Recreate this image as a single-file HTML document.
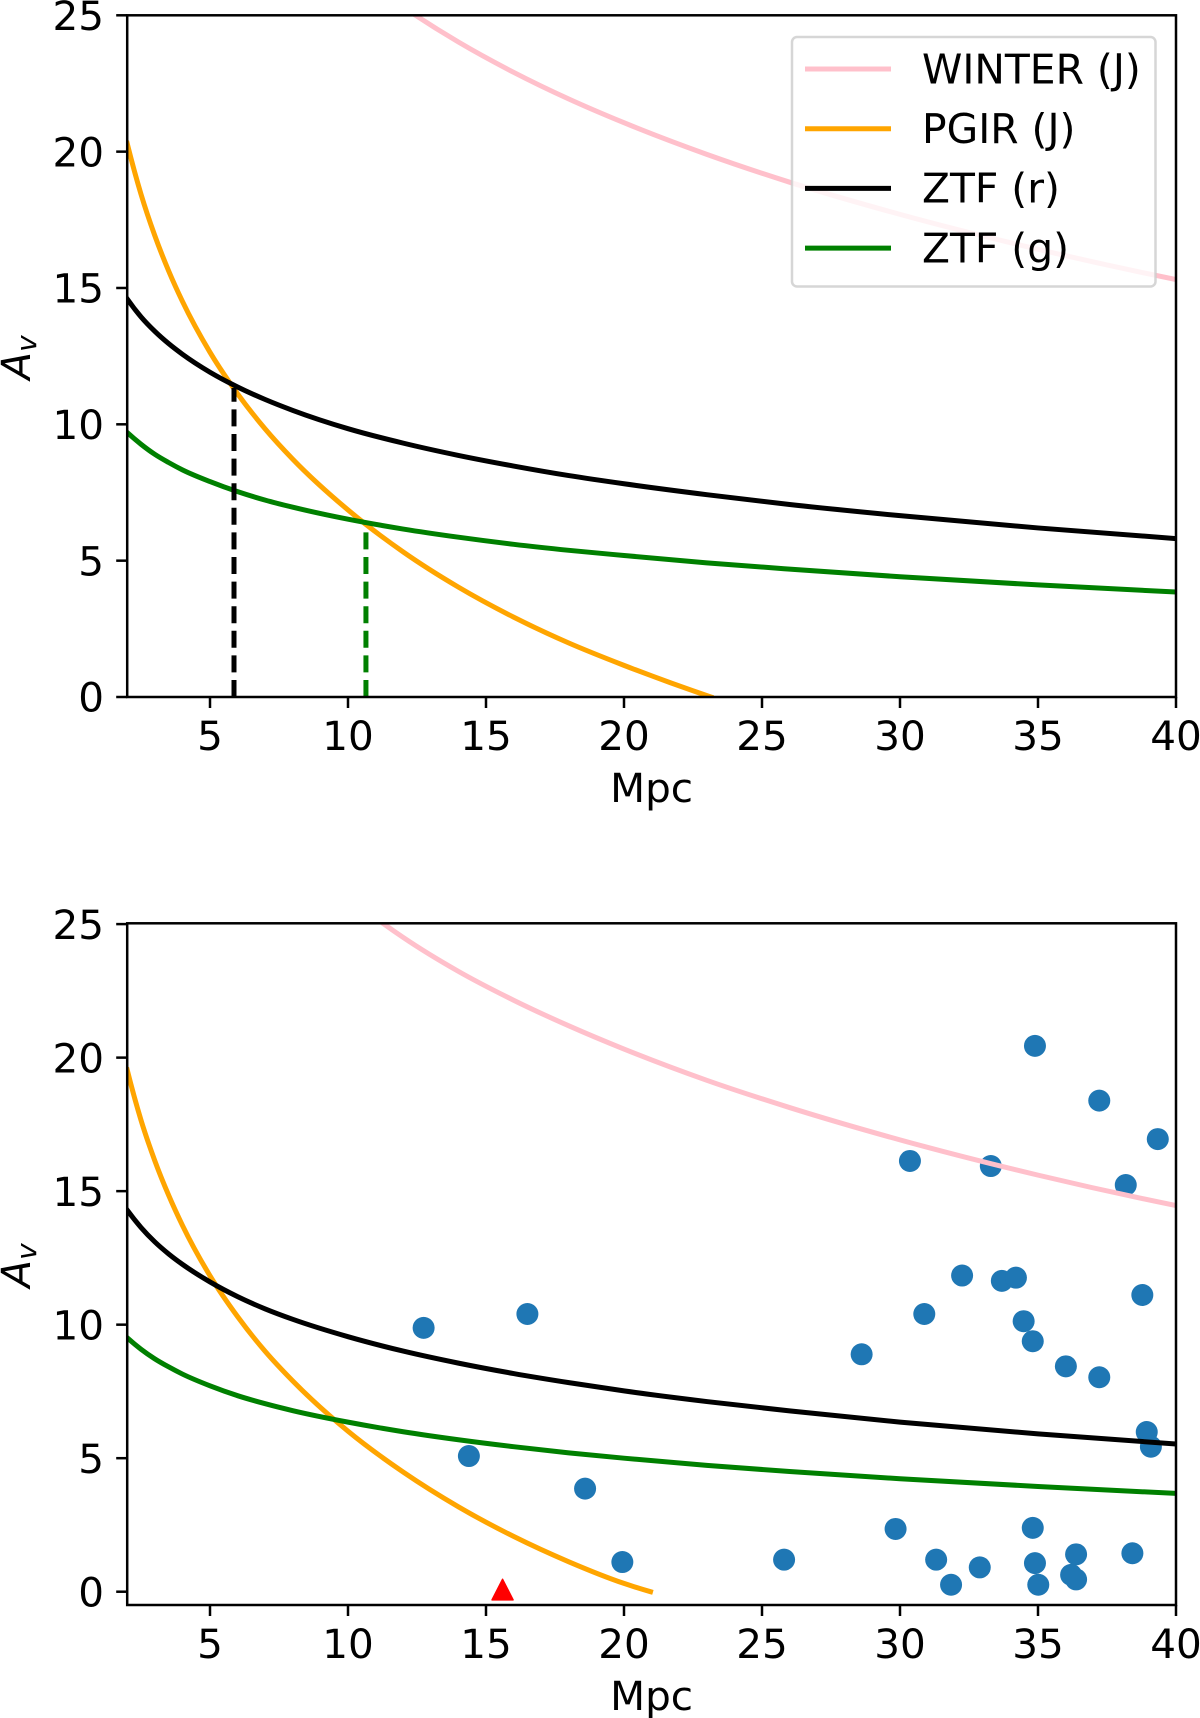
<!DOCTYPE html>
<html lang="en">
<head>
<meta charset="utf-8">
<title>Av versus distance limits</title>
<style>
  html, body { margin: 0; padding: 0; background: #ffffff; }
  #chart { display: block; }
  text { font-family: "DejaVu Sans", "Liberation Sans", sans-serif; fill: #000000; }
</style>
</head>
<body>
<svg id="chart" xmlns="http://www.w3.org/2000/svg" width="1200" height="1718" viewBox="0 0 1200 1718"></svg>
<script>
// ---- Data ----
const xTickValues = [5, 10, 15, 20, 25, 30, 35, 40];
const yTickValues = [0, 5, 10, 15, 20, 25];

const sharedDistances = [2, 2.5, 3, 3.5, 4, 5, 6, 7, 8, 10, 12, 14, 16, 18, 20, 23, 26, 30, 35, 40];

const topWinterDistances = [12, 14, 16, 18, 20, 23, 26, 30, 35, 40];
const topWinterAv = [25.3, 24.02, 22.91, 21.93, 21.06, 19.9, 18.88, 17.7, 16.42, 15.31];
const topPgirDistances = [2, 2.5, 3, 3.5, 4, 5, 6, 7, 8, 10, 12, 14, 16, 18, 20, 23.15];
const topPgirAv = [20.3, 18.44, 16.92, 15.63, 14.51, 12.64, 11.12, 9.83, 8.72, 6.86, 5.32, 4.03, 2.93, 1.98, 1.16, 0];
const topZtfRAv = [14.6, 13.94, 13.41, 12.96, 12.57, 11.91, 11.37, 10.91, 10.51, 9.84, 9.31, 8.86, 8.47, 8.12, 7.82, 7.42, 7.06, 6.65, 6.2, 5.81];
const topZtfGAv = [9.7, 9.27, 8.9, 8.6, 8.33, 7.9, 7.53, 7.22, 6.96, 6.52, 6.16, 5.86, 5.6, 5.38, 5.19, 4.92, 4.69, 4.41, 4.11, 3.85];
const dashRDistance = [5.87, 5.87];
const dashRAv = [0, 11.33];
const dashGDistance = [10.65, 10.65];
const dashGAv = [0, 6.4];

const bottomWinterDistances = [11, 12, 14, 16, 18, 20, 23, 26, 30, 35, 40];
const bottomWinterAv = [25.23, 24.5, 23.23, 22.15, 21.19, 20.32, 19.15, 18.13, 16.92, 15.6, 14.46];
const bottomPgirDistances = [2, 2.5, 3, 3.5, 4, 5, 6, 7, 8, 10, 12, 14, 16, 18, 20, 20.96];
const bottomPgirAv = [19.54, 17.66, 16.14, 14.85, 13.72, 11.83, 10.3, 9, 7.89, 6.01, 4.48, 3.18, 2.07, 1.12, 0.31, 0];
const bottomZtfRAv = [14.29, 13.64, 13.1, 12.65, 12.26, 11.6, 11.05, 10.59, 10.2, 9.55, 9.01, 8.56, 8.17, 7.83, 7.52, 7.12, 6.77, 6.35, 5.91, 5.53];
const bottomZtfGAv = [9.51, 9.08, 8.72, 8.42, 8.15, 7.71, 7.34, 7.04, 6.78, 6.35, 5.99, 5.69, 5.43, 5.2, 5, 4.73, 4.5, 4.23, 3.94, 3.68];

const scatterDistance = [34.89, 37.22, 39.34, 30.36, 33.29, 38.18, 32.25, 33.69, 34.2, 38.78, 30.88, 34.48, 34.81, 28.61, 36.01, 37.22, 38.94, 39.09, 29.84, 34.81, 31.31, 32.89, 34.89, 36.38, 38.42, 31.85, 35.01, 36.2, 36.38, 14.38, 18.59, 19.94, 25.8, 12.74, 16.5];
const scatterAv = [20.44, 18.39, 16.95, 16.13, 15.94, 15.23, 11.84, 11.64, 11.76, 11.11, 10.4, 10.13, 9.38, 8.89, 8.44, 8.03, 5.98, 5.43, 2.35, 2.39, 1.2, 0.91, 1.07, 1.4, 1.44, 0.26, 0.26, 0.63, 0.46, 5.08, 3.86, 1.11, 1.2, 9.88, 10.4];
const triangleDistance = [15.6];
const triangleAv = [0.07];

const legendLabels = ['WINTER (J)', 'PGIR (J)', 'ZTF (r)', 'ZTF (g)'];
const legendColors = ['#ffc0cb', '#ffa500', '#000000', '#008000'];

// ---- Drawing ----
const NS = 'http://www.w3.org/2000/svg';
const root = document.getElementById('chart');
const LINE_W = 5;
const SPINE_W = 2.5;
const TICK_LEN = 11;
const FONT = 40.5;
const LEGEND_FONT = 40.8;

function mk(tag, attrs, parent) {
  const el = document.createElementNS(NS, tag);
  for (const k in attrs) el.setAttribute(k, attrs[k]);
  parent.appendChild(el);
  return el;
}

function smoothPath(xs, ys) {
  const n = xs.length;
  const h = [], s = [], m = new Array(n);
  for (let i = 0; i < n - 1; i++) {
    h.push(xs[i + 1] - xs[i]);
    s.push((ys[i + 1] - ys[i]) / h[i]);
  }
  for (let i = 1; i < n - 1; i++) {
    m[i] = (h[i - 1] * s[i] + h[i] * s[i - 1]) / (h[i - 1] + h[i]);
  }
  m[0] = n > 2 ? 2 * s[0] - m[1] : s[0];
  m[n - 1] = n > 2 ? 2 * s[n - 2] - m[n - 2] : s[0];
  let d = 'M' + xs[0].toFixed(2) + ' ' + ys[0].toFixed(2);
  for (let i = 0; i < n - 1; i++) {
    const c1x = xs[i] + h[i] / 3, c1y = ys[i] + m[i] * h[i] / 3;
    const c2x = xs[i + 1] - h[i] / 3, c2y = ys[i + 1] - m[i + 1] * h[i] / 3;
    d += 'C' + c1x.toFixed(2) + ' ' + c1y.toFixed(2) + ' ' + c2x.toFixed(2) + ' ' + c2y.toFixed(2) + ' ' + xs[i + 1].toFixed(2) + ' ' + ys[i + 1].toFixed(2);
  }
  return d;
}

function drawPanel(p) {
  const left = 127.2, right = 1176;
  const xDomain = [2, 40];
  const xAt = function (v) { return left + (v - xDomain[0]) * (right - left) / (xDomain[1] - xDomain[0]); };
  const yAt = function (v) { return p.bottom + (v - p.yDomain[0]) * (p.top - p.bottom) / (p.yDomain[1] - p.yDomain[0]); };

  const panel = mk('g', {}, root);
  
  

  const clip = mk('clipPath', { id: p.key + '-clip' }, panel);
  mk('rect', { x: left, y: p.top, width: right - left, height: p.bottom - p.top }, clip);
  const plot = mk('g', { 'clip-path': 'url(#' + p.key + '-clip)' }, panel);
  
  

  // scatter sits beneath the limit curves
  if (p.points) {
    p.points.xs.forEach(function (d, i) {
      const dot = mk('circle', { cx: xAt(d), cy: yAt(p.points.ys[i]), r: 11, fill: '#1f77b4' }, plot);
      
      
    });
  }

  p.curves.forEach(function (c) {
    const path = mk('path', {
      d: smoothPath(c.xs.map(xAt), c.ys.map(yAt)),
      fill: 'none', stroke: c.color, 'stroke-width': LINE_W, 'stroke-linejoin': 'round', 'stroke-linecap': 'square'
    }, plot);
    
    
  });

  (p.dashes || []).forEach(function (c) {
    const dash = mk('line', {
      x1: xAt(c.xs[0]), y1: yAt(c.ys[0]), x2: xAt(c.xs[1]), y2: yAt(c.ys[1]),
      stroke: c.color, 'stroke-width': LINE_W, 'stroke-dasharray': '17 7.6'
    }, plot);
    
    
  });

  if (p.triangle) {
    const cx = xAt(p.triangle.xs[0]), cy = yAt(p.triangle.ys[0]);
    const tri = mk('polygon', {
      points: cx + ',' + (cy - 10.5) + ' ' + (cx + 10.5) + ',' + (cy + 10) + ' ' + (cx - 10.5) + ',' + (cy + 10),
      fill: '#ff0000', stroke: '#ff0000', 'stroke-width': 1.5, 'stroke-linejoin': 'round'
    }, panel);
    
    
  }

  // ticks and tick labels
  xTickValues.forEach(function (v) {
    const tick = mk('line', { x1: xAt(v), x2: xAt(v), y1: p.bottom, y2: p.bottom + TICK_LEN, stroke: '#000', 'stroke-width': SPINE_W }, panel);
    
    
    const label = mk('text', { x: xAt(v), y: p.bottom + 53, 'text-anchor': 'middle', 'font-size': FONT }, panel);
    label.textContent = String(v);
    
    
  });
  yTickValues.forEach(function (v) {
    const tick = mk('line', { x1: left, x2: left - TICK_LEN, y1: yAt(v), y2: yAt(v), stroke: '#000', 'stroke-width': SPINE_W }, panel);
    
    
    const label = mk('text', { x: 104, y: yAt(v) + 14.7, 'text-anchor': 'end', 'font-size': FONT }, panel);
    label.textContent = String(v);
    
    
  });

  // spines
  const frame = mk('rect', { x: left, y: p.top, width: right - left, height: p.bottom - p.top, fill: 'none', stroke: '#000', 'stroke-width': SPINE_W }, panel);
  
  

  // axis titles
  const xTitle = mk('text', { x: (left + right) / 2, y: p.bottom + 105, 'text-anchor': 'middle', 'font-size': FONT }, panel);
  xTitle.textContent = 'Mpc';
  
  

  const yMid = (p.top + p.bottom) / 2;
  const yTitle = mk('text', { transform: 'translate(30 ' + (yMid + 23.5) + ') rotate(-90)', 'font-size': FONT, 'font-style': 'italic' }, panel);
  
  
  const a = mk('tspan', {}, yTitle);
  a.textContent = 'A';
  const sub = mk('tspan', { dy: 6, 'font-size': 28 }, yTitle);
  sub.textContent = 'v';
}

drawPanel({
  key: 'top',
  top: 15.3, bottom: 697, yDomain: [0, 25],
  curves: [
    { name: 'winter-j', color: '#ffc0cb', xs: topWinterDistances, ys: topWinterAv },
    { name: 'pgir-j', color: '#ffa500', xs: topPgirDistances, ys: topPgirAv },
    { name: 'ztf-r', color: '#000000', xs: sharedDistances, ys: topZtfRAv },
    { name: 'ztf-g', color: '#008000', xs: sharedDistances, ys: topZtfGAv }
  ],
  dashes: [
    { name: 'ztf-r', color: '#000000', xs: dashRDistance, ys: dashRAv },
    { name: 'ztf-g', color: '#008000', xs: dashGDistance, ys: dashGAv }
  ]
});

drawPanel({
  key: 'bottom',
  top: 923.3, bottom: 1605, yDomain: [-0.498, 25.03],
  points: { xs: scatterDistance, ys: scatterAv },
  triangle: { xs: triangleDistance, ys: triangleAv },
  curves: [
    { name: 'winter-j', color: '#ffc0cb', xs: bottomWinterDistances, ys: bottomWinterAv },
    { name: 'pgir-j', color: '#ffa500', xs: bottomPgirDistances, ys: bottomPgirAv },
    { name: 'ztf-r', color: '#000000', xs: sharedDistances, ys: bottomZtfRAv },
    { name: 'ztf-g', color: '#008000', xs: sharedDistances, ys: bottomZtfGAv }
  ]
});

// legend
const legend = mk('g', {}, root);


const legendBox = mk('rect', { x: 792, y: 37, width: 363.5, height: 249.5, rx: 5, ry: 5, fill: 'rgba(255,255,255,0.8)', stroke: 'rgba(204,204,204,0.8)', 'stroke-width': SPINE_W }, legend);


legendLabels.forEach(function (label, i) {
  const rowY = 69 + i * 59.7;
  const handle = mk('line', { x1: 805, x2: 891, y1: rowY, y2: rowY, stroke: legendColors[i], 'stroke-width': LINE_W }, legend);
  
  
  const text = mk('text', { x: 922, y: rowY + 14.3, 'font-size': LEGEND_FONT }, legend);
  text.textContent = label;
  
  
});
</script>
</body>
</html>
